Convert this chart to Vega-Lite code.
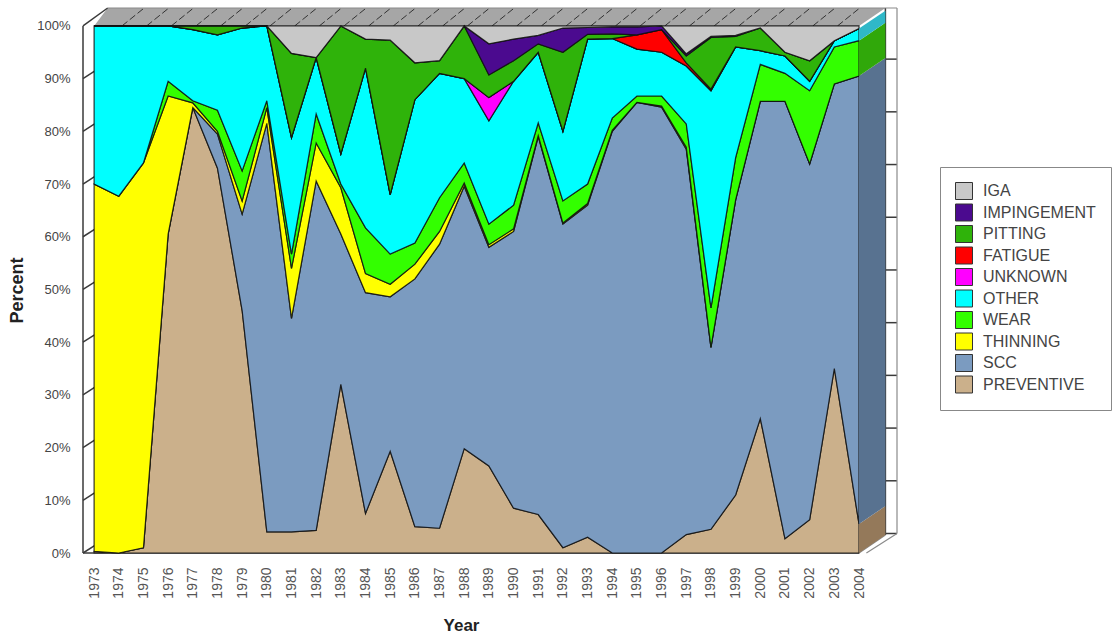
{"$schema":"https://vega.github.io/schema/vega-lite/v6.json","width":814,"height":545,"autosize":"none","padding":{"left":83,"top":8,"right":216,"bottom":81},"background":"white",
"config":{"view":{"stroke":null},"font":"Liberation Sans"},
"datasets":{
"main":[
{"year":1973,"type":"PREVENTIVE","order":1,"pct":0.3},{"year":1974,"type":"PREVENTIVE","order":1,"pct":0},{"year":1975,"type":"PREVENTIVE","order":1,"pct":1},{"year":1976,"type":"PREVENTIVE","order":1,"pct":60.5},{"year":1977,"type":"PREVENTIVE","order":1,"pct":84.5},{"year":1978,"type":"PREVENTIVE","order":1,"pct":73},{"year":1979,"type":"PREVENTIVE","order":1,"pct":46},{"year":1980,"type":"PREVENTIVE","order":1,"pct":4},{"year":1981,"type":"PREVENTIVE","order":1,"pct":4},{"year":1982,"type":"PREVENTIVE","order":1,"pct":4.3},{"year":1983,"type":"PREVENTIVE","order":1,"pct":32},{"year":1984,"type":"PREVENTIVE","order":1,"pct":7.5},{"year":1985,"type":"PREVENTIVE","order":1,"pct":19.3},{"year":1986,"type":"PREVENTIVE","order":1,"pct":5},{"year":1987,"type":"PREVENTIVE","order":1,"pct":4.7},{"year":1988,"type":"PREVENTIVE","order":1,"pct":19.8},{"year":1989,"type":"PREVENTIVE","order":1,"pct":16.5},{"year":1990,"type":"PREVENTIVE","order":1,"pct":8.5},{"year":1991,"type":"PREVENTIVE","order":1,"pct":7.3},{"year":1992,"type":"PREVENTIVE","order":1,"pct":1},{"year":1993,"type":"PREVENTIVE","order":1,"pct":3},{"year":1994,"type":"PREVENTIVE","order":1,"pct":0},{"year":1995,"type":"PREVENTIVE","order":1,"pct":0},{"year":1996,"type":"PREVENTIVE","order":1,"pct":0},{"year":1997,"type":"PREVENTIVE","order":1,"pct":3.5},{"year":1998,"type":"PREVENTIVE","order":1,"pct":4.5},{"year":1999,"type":"PREVENTIVE","order":1,"pct":11},{"year":2000,"type":"PREVENTIVE","order":1,"pct":25.5},{"year":2001,"type":"PREVENTIVE","order":1,"pct":2.7},{"year":2002,"type":"PREVENTIVE","order":1,"pct":6.3},{"year":2003,"type":"PREVENTIVE","order":1,"pct":35},{"year":2004,"type":"PREVENTIVE","order":1,"pct":5.5},
{"year":1977,"type":"SCC","order":2,"pct":0},{"year":1978,"type":"SCC","order":2,"pct":6.5},{"year":1979,"type":"SCC","order":2,"pct":18.3},{"year":1980,"type":"SCC","order":2,"pct":77.5},{"year":1981,"type":"SCC","order":2,"pct":40.5},{"year":1982,"type":"SCC","order":2,"pct":66.3},{"year":1983,"type":"SCC","order":2,"pct":28.5},{"year":1984,"type":"SCC","order":2,"pct":41.9},{"year":1985,"type":"SCC","order":2,"pct":29.3},{"year":1986,"type":"SCC","order":2,"pct":47},{"year":1987,"type":"SCC","order":2,"pct":53.9},{"year":1988,"type":"SCC","order":2,"pct":49.8},{"year":1989,"type":"SCC","order":2,"pct":41.5},{"year":1990,"type":"SCC","order":2,"pct":52.5},{"year":1991,"type":"SCC","order":2,"pct":71.7},{"year":1992,"type":"SCC","order":2,"pct":61.4},{"year":1993,"type":"SCC","order":2,"pct":63},{"year":1994,"type":"SCC","order":2,"pct":80},{"year":1995,"type":"SCC","order":2,"pct":85.5},{"year":1996,"type":"SCC","order":2,"pct":84.6},{"year":1997,"type":"SCC","order":2,"pct":73.1},{"year":1998,"type":"SCC","order":2,"pct":34.5},{"year":1999,"type":"SCC","order":2,"pct":56},{"year":2000,"type":"SCC","order":2,"pct":60.2},{"year":2001,"type":"SCC","order":2,"pct":83},{"year":2002,"type":"SCC","order":2,"pct":67.5},{"year":2003,"type":"SCC","order":2,"pct":54},{"year":2004,"type":"SCC","order":2,"pct":85},
{"year":1973,"type":"THINNING","order":3,"pct":69.7},{"year":1974,"type":"THINNING","order":3,"pct":67.7},{"year":1975,"type":"THINNING","order":3,"pct":73},{"year":1976,"type":"THINNING","order":3,"pct":26.2},{"year":1977,"type":"THINNING","order":3,"pct":0.9},{"year":1978,"type":"THINNING","order":3,"pct":0.5},{"year":1979,"type":"THINNING","order":3,"pct":2.5},{"year":1980,"type":"THINNING","order":3,"pct":3},{"year":1981,"type":"THINNING","order":3,"pct":9.5},{"year":1982,"type":"THINNING","order":3,"pct":7.2},{"year":1983,"type":"THINNING","order":3,"pct":8.8},{"year":1984,"type":"THINNING","order":3,"pct":3.6},{"year":1985,"type":"THINNING","order":3,"pct":2.4},{"year":1986,"type":"THINNING","order":3,"pct":2.8},{"year":1987,"type":"THINNING","order":3,"pct":2.4},{"year":1988,"type":"THINNING","order":3,"pct":0.6},{"year":1989,"type":"THINNING","order":3,"pct":0.5},{"year":1990,"type":"THINNING","order":3,"pct":0.5},{"year":1991,"type":"THINNING","order":3,"pct":0.2},{"year":1992,"type":"THINNING","order":3,"pct":0.2},{"year":1993,"type":"THINNING","order":3,"pct":0.3},{"year":1994,"type":"THINNING","order":3,"pct":0.2},{"year":1995,"type":"THINNING","order":3,"pct":0},{"year":1996,"type":"THINNING","order":3,"pct":0.2},{"year":1997,"type":"THINNING","order":3,"pct":0.4},{"year":1998,"type":"THINNING","order":3,"pct":0},
{"year":1975,"type":"WEAR","order":4,"pct":0},{"year":1976,"type":"WEAR","order":4,"pct":2.8},{"year":1977,"type":"WEAR","order":4,"pct":0.4},{"year":1978,"type":"WEAR","order":4,"pct":4},{"year":1979,"type":"WEAR","order":4,"pct":5.7},{"year":1980,"type":"WEAR","order":4,"pct":1.3},{"year":1981,"type":"WEAR","order":4,"pct":2.7},{"year":1982,"type":"WEAR","order":4,"pct":5.5},{"year":1983,"type":"WEAR","order":4,"pct":0.7},{"year":1984,"type":"WEAR","order":4,"pct":8.7},{"year":1985,"type":"WEAR","order":4,"pct":5.7},{"year":1986,"type":"WEAR","order":4,"pct":4},{"year":1987,"type":"WEAR","order":4,"pct":6.4},{"year":1988,"type":"WEAR","order":4,"pct":3.8},{"year":1989,"type":"WEAR","order":4,"pct":3.9},{"year":1990,"type":"WEAR","order":4,"pct":4.5},{"year":1991,"type":"WEAR","order":4,"pct":2.4},{"year":1992,"type":"WEAR","order":4,"pct":4.2},{"year":1993,"type":"WEAR","order":4,"pct":3.7},{"year":1994,"type":"WEAR","order":4,"pct":2.3},{"year":1995,"type":"WEAR","order":4,"pct":1.2},{"year":1996,"type":"WEAR","order":4,"pct":1.9},{"year":1997,"type":"WEAR","order":4,"pct":4.4},{"year":1998,"type":"WEAR","order":4,"pct":7.5},{"year":1999,"type":"WEAR","order":4,"pct":8},{"year":2000,"type":"WEAR","order":4,"pct":7},{"year":2001,"type":"WEAR","order":4,"pct":5.3},{"year":2002,"type":"WEAR","order":4,"pct":13.9},{"year":2003,"type":"WEAR","order":4,"pct":7},{"year":2004,"type":"WEAR","order":4,"pct":6.7},
{"year":1973,"type":"OTHER","order":5,"pct":30},{"year":1974,"type":"OTHER","order":5,"pct":32.3},{"year":1975,"type":"OTHER","order":5,"pct":26},{"year":1976,"type":"OTHER","order":5,"pct":10.5},{"year":1977,"type":"OTHER","order":5,"pct":13.5},{"year":1978,"type":"OTHER","order":5,"pct":14.3},{"year":1979,"type":"OTHER","order":5,"pct":27.1},{"year":1980,"type":"OTHER","order":5,"pct":14.2},{"year":1981,"type":"OTHER","order":5,"pct":22.1},{"year":1982,"type":"OTHER","order":5,"pct":10.7},{"year":1983,"type":"OTHER","order":5,"pct":5.7},{"year":1984,"type":"OTHER","order":5,"pct":30.3},{"year":1985,"type":"OTHER","order":5,"pct":11.3},{"year":1986,"type":"OTHER","order":5,"pct":27.2},{"year":1987,"type":"OTHER","order":5,"pct":23.6},{"year":1988,"type":"OTHER","order":5,"pct":16},{"year":1989,"type":"OTHER","order":5,"pct":19.6},{"year":1990,"type":"OTHER","order":5,"pct":23.5},{"year":1991,"type":"OTHER","order":5,"pct":13.4},{"year":1992,"type":"OTHER","order":5,"pct":13.2},{"year":1993,"type":"OTHER","order":5,"pct":27.5},{"year":1994,"type":"OTHER","order":5,"pct":15.1},{"year":1995,"type":"OTHER","order":5,"pct":8.9},{"year":1996,"type":"OTHER","order":5,"pct":8.3},{"year":1997,"type":"OTHER","order":5,"pct":11},{"year":1998,"type":"OTHER","order":5,"pct":41.2},{"year":1999,"type":"OTHER","order":5,"pct":21},{"year":2000,"type":"OTHER","order":5,"pct":2.6},{"year":2001,"type":"OTHER","order":5,"pct":3.3},{"year":2002,"type":"OTHER","order":5,"pct":1.8},{"year":2003,"type":"OTHER","order":5,"pct":1.2},{"year":2004,"type":"OTHER","order":5,"pct":2.3},
{"year":1988,"type":"UNKNOWN","order":6,"pct":0},{"year":1989,"type":"UNKNOWN","order":6,"pct":4.4},{"year":1990,"type":"UNKNOWN","order":6,"pct":0},
{"year":1994,"type":"FATIGUE","order":7,"pct":0},{"year":1995,"type":"FATIGUE","order":7,"pct":2.7},{"year":1996,"type":"FATIGUE","order":7,"pct":4.3},{"year":1997,"type":"FATIGUE","order":7,"pct":0.6},{"year":1998,"type":"FATIGUE","order":7,"pct":0.3},{"year":1999,"type":"FATIGUE","order":7,"pct":0},
{"year":1976,"type":"PITTING","order":8,"pct":0},{"year":1977,"type":"PITTING","order":8,"pct":0.7},{"year":1978,"type":"PITTING","order":8,"pct":1.7},{"year":1979,"type":"PITTING","order":8,"pct":0.4},{"year":1980,"type":"PITTING","order":8,"pct":0},{"year":1981,"type":"PITTING","order":8,"pct":16},{"year":1982,"type":"PITTING","order":8,"pct":0},{"year":1983,"type":"PITTING","order":8,"pct":24.3},{"year":1984,"type":"PITTING","order":8,"pct":5.5},{"year":1985,"type":"PITTING","order":8,"pct":29.3},{"year":1986,"type":"PITTING","order":8,"pct":7},{"year":1987,"type":"PITTING","order":8,"pct":2.4},{"year":1988,"type":"PITTING","order":8,"pct":10},{"year":1989,"type":"PITTING","order":8,"pct":4.3},{"year":1990,"type":"PITTING","order":8,"pct":3.9},{"year":1991,"type":"PITTING","order":8,"pct":1.6},{"year":1992,"type":"PITTING","order":8,"pct":15},{"year":1993,"type":"PITTING","order":8,"pct":0.9},{"year":1994,"type":"PITTING","order":8,"pct":0.9},{"year":1995,"type":"PITTING","order":8,"pct":0},{"year":1996,"type":"PITTING","order":8,"pct":0},{"year":1997,"type":"PITTING","order":8,"pct":1.3},{"year":1998,"type":"PITTING","order":8,"pct":9.8},{"year":1999,"type":"PITTING","order":8,"pct":2},{"year":2000,"type":"PITTING","order":8,"pct":4.3},{"year":2001,"type":"PITTING","order":8,"pct":0.7},{"year":2002,"type":"PITTING","order":8,"pct":3.9},{"year":2003,"type":"PITTING","order":8,"pct":0},
{"year":1988,"type":"IMPINGEMENT","order":9,"pct":0},{"year":1989,"type":"IMPINGEMENT","order":9,"pct":5.9},{"year":1990,"type":"IMPINGEMENT","order":9,"pct":4.1},{"year":1991,"type":"IMPINGEMENT","order":9,"pct":1.6},{"year":1992,"type":"IMPINGEMENT","order":9,"pct":4.6},{"year":1993,"type":"IMPINGEMENT","order":9,"pct":1.3},{"year":1994,"type":"IMPINGEMENT","order":9,"pct":1.3},{"year":1995,"type":"IMPINGEMENT","order":9,"pct":1.5},{"year":1996,"type":"IMPINGEMENT","order":9,"pct":0.7},{"year":1997,"type":"IMPINGEMENT","order":9,"pct":0.4},{"year":1998,"type":"IMPINGEMENT","order":9,"pct":0.2},{"year":1999,"type":"IMPINGEMENT","order":9,"pct":0.2},{"year":2000,"type":"IMPINGEMENT","order":9,"pct":0},
{"year":1980,"type":"IGA","order":10,"pct":0},{"year":1981,"type":"IGA","order":10,"pct":5.2},{"year":1982,"type":"IGA","order":10,"pct":6},{"year":1983,"type":"IGA","order":10,"pct":0},{"year":1984,"type":"IGA","order":10,"pct":2.5},{"year":1985,"type":"IGA","order":10,"pct":2.7},{"year":1986,"type":"IGA","order":10,"pct":7},{"year":1987,"type":"IGA","order":10,"pct":6.6},{"year":1988,"type":"IGA","order":10,"pct":0},{"year":1989,"type":"IGA","order":10,"pct":3.4},{"year":1990,"type":"IGA","order":10,"pct":2.5},{"year":1991,"type":"IGA","order":10,"pct":1.8},{"year":1992,"type":"IGA","order":10,"pct":0.4},{"year":1993,"type":"IGA","order":10,"pct":0.3},{"year":1994,"type":"IGA","order":10,"pct":0.2},{"year":1995,"type":"IGA","order":10,"pct":0.2},{"year":1996,"type":"IGA","order":10,"pct":0},{"year":1997,"type":"IGA","order":10,"pct":5.3},{"year":1998,"type":"IGA","order":10,"pct":2},{"year":1999,"type":"IGA","order":10,"pct":1.8},{"year":2000,"type":"IGA","order":10,"pct":0.4},{"year":2001,"type":"IGA","order":10,"pct":5},{"year":2002,"type":"IGA","order":10,"pct":6.6},{"year":2003,"type":"IGA","order":10,"pct":2.8},{"year":2004,"type":"IGA","order":10,"pct":0.5}
],
"band":[{"x":1973,"lo":100,"hi":100},{"x":1973.55,"lo":100,"hi":103.4},{"x":2004,"lo":100,"hi":103.4},{"x":2005.07,"lo":103.4,"hi":103.4}],
"walls":[
{"x":2004,"type":"PREVENTIVE","lo":0,"hi":5.5},{"x":2005.07,"type":"PREVENTIVE","lo":3.4,"hi":8.9},
{"x":2004,"type":"SCC","lo":5.5,"hi":90.5},{"x":2005.07,"type":"SCC","lo":8.9,"hi":93.9},
{"x":2004,"type":"WEAR","lo":90.5,"hi":97.2},{"x":2005.07,"type":"WEAR","lo":93.9,"hi":100.6},
{"x":2004,"type":"OTHER","lo":97.2,"hi":99.5},{"x":2005.07,"type":"OTHER","lo":100.6,"hi":102.9}
],
"hatch":[{"x0":1974.13,"y0":100,"x1":1975.03,"y1":103.4},{"x0":1975.13,"y0":100,"x1":1976.03,"y1":103.4},{"x0":1976.13,"y0":100,"x1":1977.03,"y1":103.4},{"x0":1977.13,"y0":100,"x1":1978.03,"y1":103.4},{"x0":1978.13,"y0":100,"x1":1979.03,"y1":103.4},{"x0":1979.13,"y0":100,"x1":1980.03,"y1":103.4},{"x0":1980.13,"y0":100,"x1":1981.03,"y1":103.4},{"x0":1981.13,"y0":100,"x1":1982.03,"y1":103.4},{"x0":1982.13,"y0":100,"x1":1983.03,"y1":103.4},{"x0":1983.13,"y0":100,"x1":1984.03,"y1":103.4},{"x0":1984.13,"y0":100,"x1":1985.03,"y1":103.4},{"x0":1985.13,"y0":100,"x1":1986.03,"y1":103.4},{"x0":1986.13,"y0":100,"x1":1987.03,"y1":103.4},{"x0":1987.13,"y0":100,"x1":1988.03,"y1":103.4},{"x0":1988.13,"y0":100,"x1":1989.03,"y1":103.4},{"x0":1989.13,"y0":100,"x1":1990.03,"y1":103.4},{"x0":1990.13,"y0":100,"x1":1991.03,"y1":103.4},{"x0":1991.13,"y0":100,"x1":1992.03,"y1":103.4},{"x0":1992.13,"y0":100,"x1":1993.03,"y1":103.4},{"x0":1993.13,"y0":100,"x1":1994.03,"y1":103.4},{"x0":1994.13,"y0":100,"x1":1995.03,"y1":103.4},{"x0":1995.13,"y0":100,"x1":1996.03,"y1":103.4},{"x0":1996.13,"y0":100,"x1":1997.03,"y1":103.4},{"x0":1997.13,"y0":100,"x1":1998.03,"y1":103.4},{"x0":1998.13,"y0":100,"x1":1999.03,"y1":103.4},{"x0":1999.13,"y0":100,"x1":2000.03,"y1":103.4},{"x0":2000.13,"y0":100,"x1":2001.03,"y1":103.4},{"x0":2001.13,"y0":100,"x1":2002.03,"y1":103.4},{"x0":2002.13,"y0":100,"x1":2003.03,"y1":103.4},{"x0":2003.13,"y0":100,"x1":2004.03,"y1":103.4}],
"slants":[{"x0":1972.55,"y0":0,"x1":1973.05,"y1":1.5},{"x0":1972.55,"y0":10,"x1":1973.05,"y1":11.5},{"x0":1972.55,"y0":20,"x1":1973.05,"y1":21.5},{"x0":1972.55,"y0":30,"x1":1973.05,"y1":31.5},{"x0":1972.55,"y0":40,"x1":1973.05,"y1":41.5},{"x0":1972.55,"y0":50,"x1":1973.05,"y1":51.5},{"x0":1972.55,"y0":60,"x1":1973.05,"y1":61.5},{"x0":1972.55,"y0":70,"x1":1973.05,"y1":71.5},{"x0":1972.55,"y0":80,"x1":1973.05,"y1":81.5},{"x0":1972.55,"y0":90,"x1":1973.05,"y1":91.5},{"x0":1972.55,"y0":100,"x1":1973.55,"y1":103.4},
{"x0":1972.55,"y0":0,"x1":1972.55,"y1":100},{"x0":1972.55,"y0":0,"x1":2004,"y1":0},{"x0":2005.07,"y0":3.7,"x1":2005.54,"y1":3.7},{"x0":2005.07,"y0":13.7,"x1":2005.54,"y1":13.7},{"x0":2005.07,"y0":23.7,"x1":2005.54,"y1":23.7},{"x0":2005.07,"y0":33.7,"x1":2005.54,"y1":33.7},{"x0":2005.07,"y0":43.7,"x1":2005.54,"y1":43.7},{"x0":2005.07,"y0":53.7,"x1":2005.54,"y1":53.7},{"x0":2005.07,"y0":63.7,"x1":2005.54,"y1":63.7},{"x0":2005.07,"y0":73.7,"x1":2005.54,"y1":73.7},{"x0":2005.07,"y0":83.7,"x1":2005.54,"y1":83.7},{"x0":2005.07,"y0":93.7,"x1":2005.54,"y1":93.7},{"x0":2005.07,"y0":3.4,"x1":2005.07,"y1":103.4}],
"rim":[{"x0":1973.55,"y0":103.4,"x1":2005.54,"y1":103.4},{"x0":2005.54,"y0":3.7,"x1":2005.54,"y1":103.4},{"x0":2004,"y0":0,"x1":2005.07,"y1":3.4},{"x0":2004.3,"y0":0,"x1":2005.54,"y1":3.7}]
},
"layer":[
{"data":{"name":"band"},"mark":{"type":"area","color":"#a6a6a6"},
 "encoding":{"x":{"field":"x","type":"quantitative","scale":{"domain":[1972.55,2005.54],"nice":false,"zero":false},
   "axis":{"values":[1973,1974,1975,1976,1977,1978,1979,1980,1981,1982,1983,1984,1985,1986,1987,1988,1989,1990,1991,1992,1993,1994,1995,1996,1997,1998,1999,2000,2001,2002,2003,2004],"tickCount":40,"format":"d","labelAngle":-90,"labelAlign":"right","labelBaseline":"middle","labelFontSize":14,"labelColor":"#555555","labelPadding":14,"labelOverlap":false,"labelFlush":false,"domain":false,"ticks":false,"grid":false,"title":"Year","titleFontSize":17,"titleFontWeight":"bold","titleColor":"#222222","titleX":378,"titleY":77,"titleAlign":"center","titleBaseline":"alphabetic"}},
  "y":{"field":"lo","type":"quantitative","scale":{"domain":[0,103.4],"nice":false,"zero":false},
   "axis":{"values":[0,10,20,30,40,50,60,70,80,90,100],"labelExpr":"datum.value + '%'","labelFontSize":13,"labelColor":"#444444","labelPadding":13,"labelOverlap":false,"labelFlush":false,"domain":false,"ticks":false,"grid":false,"title":"Percent","titleFontSize":18,"titleFontWeight":"bold","titleColor":"#222222","titleX":-57,"titleY":282,"titleAlign":"center"}},
  "y2":{"field":"hi"}}},
{"data":{"name":"hatch"},"mark":{"type":"rule","color":"#333333","strokeWidth":1,"strokeDash":[7,3]},
 "encoding":{"x":{"field":"x0","type":"quantitative"},"x2":{"field":"x1"},"y":{"field":"y0","type":"quantitative"},"y2":{"field":"y1"}}},
{"data":{"name":"slants"},"mark":{"type":"rule","color":"#3a3a3a","strokeWidth":1.5},
 "encoding":{"x":{"field":"x0","type":"quantitative"},"x2":{"field":"x1"},"y":{"field":"y0","type":"quantitative"},"y2":{"field":"y1"}}},
{"data":{"name":"rim"},"mark":{"type":"rule","color":"#8a8a8a","strokeWidth":1.2},
 "encoding":{"x":{"field":"x0","type":"quantitative"},"x2":{"field":"x1"},"y":{"field":"y0","type":"quantitative"},"y2":{"field":"y1"}}},
{"data":{"name":"main"},"mark":{"type":"area","stroke":"#111111","strokeWidth":1.2,"strokeOpacity":0.85},
 "encoding":{"x":{"field":"year","type":"quantitative"},
  "y":{"field":"pct","type":"quantitative","stack":"zero"},
  "order":{"field":"order","type":"quantitative"},
  "color":{"field":"type","type":"nominal","sort":null,
   "scale":{"domain":["IGA","IMPINGEMENT","PITTING","FATIGUE","UNKNOWN","OTHER","WEAR","THINNING","SCC","PREVENTIVE"],"range":["#c8c8c8","#4b0a8f","#2fb30a","#ff0000","#ff00ff","#00ffff","#33ff00","#ffff00","#7b9bc0","#cbb08b"]},
   "legend":{"orient":"none","legendX":857,"legendY":159,"title":null,"symbolType":"square","symbolSize":289,"symbolStrokeWidth":1,"symbolStrokeColor":"#333333","symbolOpacity":1,"labelFontSize":16,"labelColor":"#444444","labelOffset":10,"padding":15,"rowPadding":-0.5,"fillColor":"white","strokeColor":"#888888","labelLimit":200}}}},
{"data":{"name":"walls"},"transform":[{"filter":"datum.type==='PREVENTIVE'"}],"mark":{"type":"area","color":"#94795a"},"encoding":{"x":{"field":"x","type":"quantitative"},"y":{"field":"lo","type":"quantitative"},"y2":{"field":"hi"}}},
{"data":{"name":"walls"},"transform":[{"filter":"datum.type==='SCC'"}],"mark":{"type":"area","color":"#587290"},"encoding":{"x":{"field":"x","type":"quantitative"},"y":{"field":"lo","type":"quantitative"},"y2":{"field":"hi"}}},
{"data":{"name":"walls"},"transform":[{"filter":"datum.type==='WEAR'"}],"mark":{"type":"area","color":"#30a80a"},"encoding":{"x":{"field":"x","type":"quantitative"},"y":{"field":"lo","type":"quantitative"},"y2":{"field":"hi"}}},
{"data":{"name":"walls"},"transform":[{"filter":"datum.type==='OTHER'"}],"mark":{"type":"area","color":"#2fb8c8"},"encoding":{"x":{"field":"x","type":"quantitative"},"y":{"field":"lo","type":"quantitative"},"y2":{"field":"hi"}}}
]}
